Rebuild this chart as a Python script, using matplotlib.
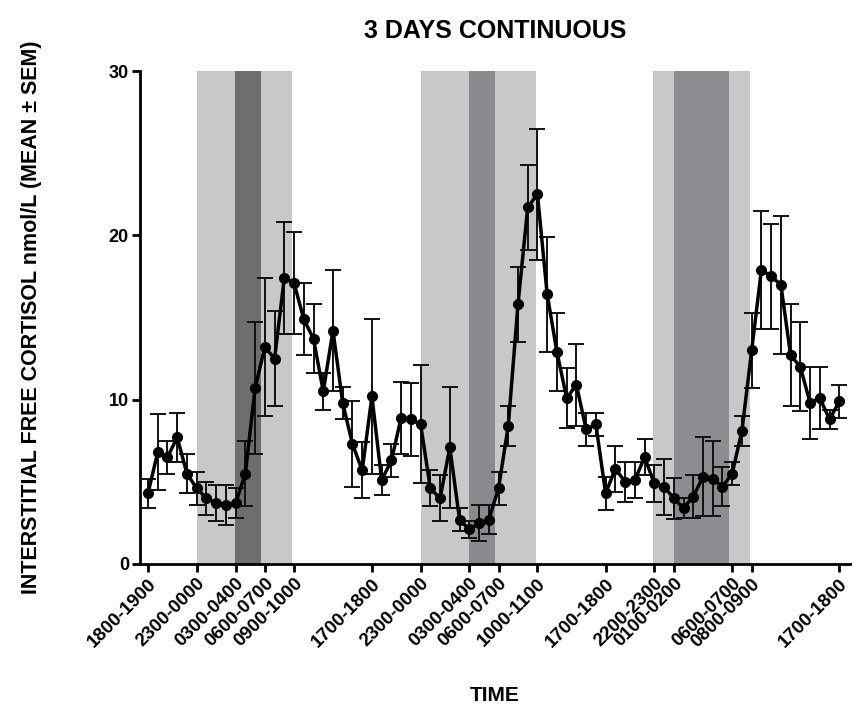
import matplotlib.pyplot as plt
import numpy as np

# hourly samples over 3 days (sample index on the x axis)
cortisol = [4.3, 6.8, 6.5, 7.7, 5.5, 4.6, 4.0, 3.7, 3.6, 3.7,
            5.5, 10.7, 13.2, 12.5, 17.4, 17.1, 14.9, 13.7, 10.5, 14.2,
            9.8, 7.3, 5.7, 10.2, 5.1, 6.3, 8.9, 8.8, 8.5, 4.6,
            4.0, 7.1, 2.7, 2.1, 2.5, 2.7, 4.6, 8.4, 15.8, 21.7,
            22.5, 16.4, 12.9, 10.1, 10.9, 8.2, 8.5, 4.3, 5.8, 5.0,
            5.1, 6.5, 4.9, 4.7, 4.0, 3.4, 4.1, 5.3, 5.2, 4.7,
            5.5, 8.1, 13.0, 17.9, 17.5, 17.0, 12.7, 12.0, 9.8, 10.1,
            8.8, 9.9]
sem = [0.9, 2.3, 1.0, 1.5, 1.2, 1.0, 1.0, 1.1, 1.2, 0.9,
       2.0, 4.0, 4.2, 2.9, 3.4, 3.1, 2.2, 2.1, 1.1, 3.7,
       1.0, 2.6, 1.7, 4.7, 0.9, 1.0, 2.2, 2.2, 3.6, 1.1,
       1.4, 3.7, 0.7, 0.5, 1.1, 0.9, 1.0, 1.2, 2.3, 2.6,
       4.0, 3.5, 2.4, 1.8, 2.5, 1.0, 0.7, 1.0, 1.4, 1.2,
       1.1, 1.1, 1.1, 1.7, 1.25, 0.6, 1.3, 2.4, 2.3, 1.2,
       0.7, 0.9, 2.3, 3.6, 3.2, 4.2, 3.1, 2.7, 2.2, 1.9,
       0.6, 1.0]

tick_idx = [0, 5, 9, 12, 15, 23, 28, 33, 36, 40, 47, 52, 54, 60, 62, 71]
tick_labels = ['1800-1900', '2300-0000', '0300-0400', '0600-0700', '0900-1000',
               '1700-1800', '2300-0000', '0300-0400', '0600-0700', '1000-1100',
               '1700-1800', '2200-2300', '0100-0200', '0600-0700', '0800-0900',
               '1700-1800']

# shaded periods (sample index)
light_spans = [(5, 14.8), (28, 39.8), (51.9, 61.8)]
dark_spans = [(8.9, 11.6), (33, 35.6), (54, 59.7)]
dark_colors = ['#6e6e6e', '#8b8b8f', '#8d8d91']

plt.rcParams['font.family'] = ['Liberation Sans', 'DejaVu Sans']
plt.rcParams['font.weight'] = 'bold'

fig = plt.figure(figsize=(8.54, 7.06), dpi=100)
ax = fig.add_axes([140 / 854, 1 - 564 / 706, 710 / 854, 493 / 706])

for (a, b) in light_spans:
    ax.axvspan(a, b, color='#c8c8c8', lw=0, zorder=0)
for (a, b), c in zip(dark_spans, dark_colors):
    ax.axvspan(a, b, color=c, lw=0, zorder=0)

x = np.arange(len(cortisol))
ax.errorbar(x, cortisol, yerr=sem, color='black', lw=2.5, marker='o', ms=7,
            ecolor='#111111', elinewidth=1.4, capsize=5.5, capthick=1.4, zorder=3)

ax.set_xlim(-0.82, 72.1)
ax.set_ylim(0, 30)
ax.set_yticks([0, 10, 20, 30])
ax.set_xticks(tick_idx)
ax.set_xticklabels(tick_labels, rotation=45, ha='right', rotation_mode='anchor',
                   fontsize=13.5, fontweight='bold')
for lab in ax.get_yticklabels():
    lab.set_fontsize(13)
    lab.set_fontweight('bold')

for s in ['top', 'right']:
    ax.spines[s].set_visible(False)
for s in ['left', 'bottom']:
    ax.spines[s].set_linewidth(2)
ax.tick_params(width=2, length=6, pad=2)

ax.set_xlabel('TIME', fontsize=15, fontweight='bold', labelpad=26)
ax.set_ylabel('INTERSTITIAL FREE CORTISOL nmol/L (MEAN \u00b1 SEM)',
              fontsize=15.5, fontweight='bold', labelpad=48)
ax.set_title('3 DAYS CONTINUOUS', fontsize=18, fontweight='bold', pad=24)

fig.savefig('out.png', dpi=100)
